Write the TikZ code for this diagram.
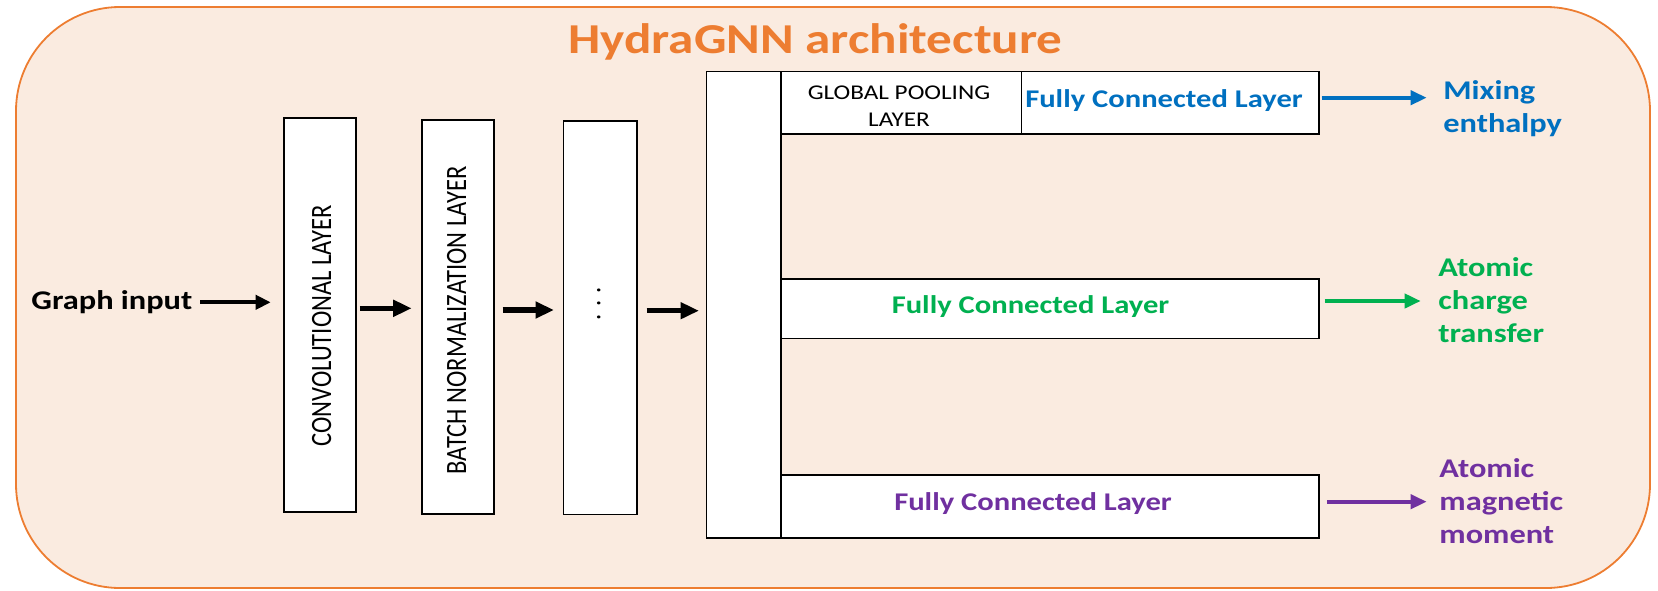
\documentclass[tikz,border=0pt]{standalone}
\usepackage{fontspec}
\setmainfont{Carlito}[FakeStretch=1.2]
\newfontfamily\rotfont{Carlito}[FakeStretch=0.833]
\usetikzlibrary{arrows.meta}
\definecolor{hgorange}{HTML}{ED7D31}
\definecolor{hgbg}{RGB}{250,235,224}
\definecolor{hgblue}{HTML}{0070C0}
\definecolor{hggreen}{HTML}{00B050}
\definecolor{hgpurple}{HTML}{7030A0}
\begin{document}
\begin{tikzpicture}[x=0.5pt,y=-0.5pt,
  box/.style={draw=black, line width=0.8pt, fill=white, inner sep=0pt, anchor=north west},
  vtext/.style={font=\rotfont\fontsize{14.75pt}{16pt}\selectfont, rotate=90, inner sep=0pt, anchor=base},
  fctext/.style={font=\bfseries\fontsize{12.75pt}{15pt}\selectfont, inner sep=0pt, anchor=base},
  outlabel/.style={font=\bfseries\fontsize{13.5pt}{16.5pt}\selectfont, inner sep=0pt, anchor=base west, align=left},
  inarrow/.style={line width=2pt, -{Triangle[length=7.5pt,width=7pt]}},
  blkarrow/.style={line width=2.75pt, -{Triangle[length=9.25pt,width=8pt]}},
  colarrow/.style={line width=1.9pt, -{Triangle[length=8pt,width=7pt]}},
]
\useasboundingbox (0,0) rectangle (1658,590);
% frame
\draw[draw=hgorange, fill=hgbg, line width=0.9pt, rounded corners=52pt] (16,7) rectangle (1650,588);
% title
\node[font=\bfseries\fontsize{21.3pt}{24pt}\selectfont, text=hgorange, anchor=base, inner sep=0pt] (title) at (815.5,53.3) {HydraGNN architecture};
% boxes
\node[box, minimum width=36pt, minimum height=197pt] (conv) at (283,117) {};
\node[box, minimum width=36pt, minimum height=197pt] (bn) at (421,119.3) {};
\node[box, minimum width=36.65pt, minimum height=196.7pt] (dots) at (562.7,120.3) {};
\node[box, minimum width=37.25pt, minimum height=233.25pt] (big) at (705.5,70.5) {};
\node[box, minimum width=120.35pt, minimum height=31.4pt] (gp) at (780,70.5) {};
\node[box, minimum width=148.8pt, minimum height=31.4pt] (fc1) at (1020.7,70.5) {};
\node[box, minimum width=269.15pt, minimum height=29.7pt] (fc2) at (780,278.3) {};
\node[box, minimum width=269.15pt, minimum height=31.5pt] (fc3) at (780,474) {};
% texts
\node[font=\bfseries\fontsize{13.5pt}{16pt}\selectfont, anchor=base west, inner sep=0pt] (gi) at (31,309) {Graph input};
\node[vtext] (convt) at (331,326) {CONVOLUTIONAL LAYER};
\node[vtext] (bnt) at (466,320.4) {BATCH NORMALIZATION LAYER};
\node[font=\rotfont\fontsize{14.75pt}{16pt}\selectfont, rotate=90, inner sep=0pt, anchor=center] (dt) at (598.7,303.7) {.\hspace{3.65pt}.\hspace{3.65pt}.};
\node[font=\fontsize{10.5pt}{13.3pt}\selectfont, align=center, anchor=base, inner sep=0pt] (gpt) at (899,126) {GLOBAL POOLING\\LAYER};
\node[fctext, text=hgblue] (fc1t) at (1164,107) {Fully Connected Layer};
\node[fctext, text=hggreen] (fc2t) at (1030.5,313.3) {Fully Connected Layer};
\node[fctext, text=hgpurple] (fc3t) at (1033,510) {Fully Connected Layer};
\node[outlabel, text=hgblue] (mix) at (1443,132.7) {Mixing\\enthalpy};
\node[outlabel, text=hggreen] (act) at (1438,342.7) {Atomic\\charge\\transfer};
\node[outlabel, text=hgpurple] (amm) at (1439,543) {Atomic\\magnetic\\moment};
% arrow levels
\coordinate (y0) at (0,302.3);
\coordinate (y1) at (0,308.3);
\coordinate (y2) at (0,310);
\coordinate (y3) at (0,310.7);
\coordinate (yb) at (0,97.7);
\coordinate (yg) at (0,301);
\coordinate (yp) at (0,501.7);
% connectors
\draw[inarrow, shorten <=3.85pt, shorten >=6.15pt] (gi.east |- y0) -- (conv.west |- y0);
\draw[blkarrow, shorten <=1.65pt, shorten >=4.65pt] (conv.east |- y1) -- (bn.west |- y1);
\draw[blkarrow, shorten <=4pt, shorten >=4.35pt] (bn.east |- y2) -- (dots.west |- y2);
\draw[blkarrow, shorten <=4.5pt, shorten >=3.25pt] (dots.east |- y3) -- (big.west |- y3);
\draw[colarrow, draw=hgblue, fill=hgblue, shorten <=0.85pt, shorten >=8.15pt] (fc1.east |- yb) -- (mix.west |- yb);
\draw[colarrow, draw=hggreen, fill=hggreen, shorten <=2.35pt, shorten >=8.65pt] (fc2.east |- yg) -- (act.west |- yg);
\draw[colarrow, draw=hgpurple, fill=hgpurple, shorten <=3.5pt, shorten >=6.15pt] (fc3.east |- yp) -- (amm.west |- yp);
\end{tikzpicture}
\end{document}
